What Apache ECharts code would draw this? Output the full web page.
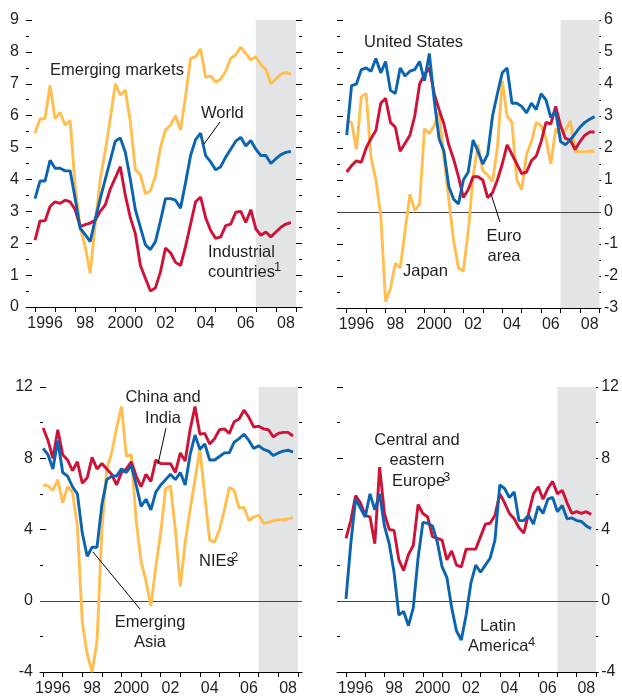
<!DOCTYPE html>
<html>
<head>
<meta charset="utf-8">
<style>
html, body { margin: 0; padding: 0; background: #fff; }
#chart { width: 622px; height: 697px; }
</style>
<script src="https://cdn.jsdelivr.net/npm/echarts@6.0.0/dist/echarts.min.js"></script>
</head>
<body>
<div id="chart"></div>
<script>
var FONT = "'Liberation Sans', Arial, sans-serif";
var ORANGE = '#ffbe4f', BLUE = '#0b64b0', RED = '#cf1238', SHADE = '#e3e4e6', INK = '#231f20';

// year boundaries and labels (labels sit in the middle of a year)
var tickYears = [1996, 1997, 1998, 1999, 2000, 2001, 2002, 2003, 2004, 2005, 2006, 2007, 2008, 2009];
var yearLabels = ['1996', '98', '2000', '02', '04', '06', '08'];
var forecastFrom = 2007, forecastTo = 2009;

// quarterly data, 1996Q1 .. 2008Q4
var emergingMarkets = [5.45,5.9,5.9,6.95,5.9,6.1,5.7,5.85,3.8,2.5,1.9,1.05,2.6,4.0,4.9,5.9,7.0,6.65,6.8,5.8,4.3,4.15,3.55,3.65,4.1,5.0,5.55,5.7,6.0,5.55,6.6,7.8,7.85,8.1,7.2,7.25,7.05,7.15,7.4,7.8,7.9,8.15,7.95,7.75,7.85,7.6,7.45,7.0,7.15,7.3,7.35,7.3];
var world = [3.4,3.95,3.95,4.6,4.35,4.35,4.27,4.27,3.4,2.47,2.27,2.05,2.75,3.4,4.0,4.6,5.2,5.3,4.85,4.0,3.05,2.5,1.95,1.8,2.05,2.7,3.4,3.4,3.35,3.1,3.9,4.75,5.25,5.45,4.75,4.55,4.3,4.4,4.7,4.95,5.2,5.32,5.05,5.22,4.95,4.75,4.75,4.5,4.65,4.78,4.85,4.88];
var industrial = [2.1,2.7,2.7,3.15,3.3,3.25,3.35,3.3,3.05,2.52,2.58,2.63,2.72,3.0,3.2,3.7,4.05,4.4,3.5,2.8,2.3,1.3,0.9,0.5,0.6,1.1,1.85,1.7,1.4,1.3,1.9,2.6,3.3,3.45,2.8,2.4,2.15,2.2,2.55,2.6,2.97,3.0,2.65,3.05,2.45,2.25,2.35,2.2,2.35,2.5,2.6,2.65];

var unitedStates = [2.4,3.95,4.0,4.45,4.5,4.4,4.8,4.35,4.7,3.8,3.7,4.5,4.25,4.4,4.45,4.7,4.1,4.95,3.5,2.3,1.9,0.8,0.4,0.25,1.0,1.25,2.25,1.9,1.5,1.8,3.0,3.7,4.35,4.5,3.4,3.4,3.3,3.1,3.4,3.2,3.7,3.5,2.95,3.15,2.2,2.1,2.25,2.45,2.65,2.8,2.9,2.98];
var euroArea = [1.25,1.45,1.6,1.55,2.0,2.3,2.55,3.4,3.55,2.8,2.65,1.9,2.15,2.4,3.0,4.0,4.3,4.5,3.7,3.2,2.75,2.1,1.65,1.1,0.45,0.7,1.1,1.1,1.0,0.45,0.6,1.0,1.5,2.1,1.8,1.5,1.2,1.25,1.6,1.75,2.2,2.8,2.75,3.3,2.7,2.3,2.25,1.95,2.2,2.4,2.5,2.5];
var japan = [2.85,2.8,1.95,3.6,3.7,1.7,1.0,-0.1,-2.8,-2.4,-1.6,-1.75,-0.6,0.55,0.05,0.25,2.6,2.45,2.7,3.1,1.7,0.4,-0.9,-1.75,-1.85,-0.6,1.1,2.1,1.3,1.15,0.95,2.0,4.1,3.0,2.8,1.0,0.7,1.8,2.2,2.8,2.7,2.3,1.5,2.6,2.4,2.55,2.85,1.9,1.88,1.88,1.9,1.9];

var chinaIndia = [9.7,9.0,8.0,9.6,8.2,7.9,7.3,7.8,6.6,6.9,8.05,7.4,7.7,7.4,7.1,6.5,7.2,7.4,7.8,7.0,6.4,7.1,6.7,7.9,7.7,7.7,7.7,7.2,8.3,7.85,9.6,10.9,9.35,9.4,8.8,9.1,9.6,9.65,9.4,10.05,10.2,10.7,10.3,9.75,9.8,9.65,9.6,9.2,9.4,9.45,9.45,9.25];
var emergingAsia = [8.55,8.2,7.4,9.0,7.2,7.0,6.4,6.0,3.8,2.5,3.0,3.0,5.4,6.8,7.0,7.0,7.4,7.2,7.6,6.5,5.3,5.7,5.1,6.1,6.5,6.8,7.1,6.8,7.2,6.5,8.2,9.3,8.5,8.8,7.9,7.9,8.1,8.3,8.3,8.9,9.1,9.35,9.0,8.55,8.7,8.5,8.4,8.15,8.3,8.4,8.45,8.35];
var nies = [6.5,6.45,6.2,6.8,5.5,6.4,6.1,4.2,-1.2,-3.0,-4.0,-2.3,4.0,7.4,8.3,9.7,10.9,8.1,8.2,4.5,2.2,1.1,-0.3,1.9,3.8,6.3,6.45,4.0,0.8,3.3,5.1,6.8,8.5,5.9,3.4,3.3,4.0,5.1,6.35,6.2,5.2,5.25,4.5,4.7,4.8,4.35,4.4,4.5,4.55,4.55,4.6,4.65];

var ceEurope = [3.5,4.5,5.9,5.5,4.8,4.7,3.2,7.5,4.9,4.0,3.95,2.3,1.7,2.6,3.1,5.4,4.9,4.7,3.6,3.5,3.4,2.3,2.8,2.0,1.9,2.9,2.9,2.9,3.6,4.3,4.35,4.8,6.0,5.5,4.9,4.6,4.1,3.8,4.9,6.0,6.4,5.7,6.3,6.7,6.0,6.2,5.5,4.9,5.0,4.9,5.0,4.85];
var latinAmerica = [0.1,3.2,5.7,5.2,4.7,6.0,5.1,6.0,4.2,3.2,1.6,-0.8,-0.6,-1.4,-0.4,2.4,4.4,4.35,4.2,3.3,1.9,1.3,-0.4,-1.7,-2.2,-0.8,1.0,2.0,1.6,2.0,2.4,3.4,6.5,6.3,5.8,6.1,4.5,4.5,4.8,4.3,5.3,4.9,5.7,5.8,5.0,5.35,4.6,4.65,4.5,4.45,4.2,4.05];

function quarterPoints(values) {
	var out = [];
	for (var i = 0; i < values.length; i++) {
		out.push([1996 + i / 4, values[i]]);
	}
	return out;
}

var labelPos = yearLabels.map(function (s, k) { return 1996.5 + 2 * k; });

var grids = [
	{ left: 26, top: 20, width: 276, height: 287 },
	{ left: 337, top: 20, width: 264, height: 288 },
	{ left: 40, top: 387, width: 262, height: 287 },
	{ left: 337, top: 387, width: 262, height: 285 }
];
var xRange = [[1995.552, 2009.30], [1995.50, 2009.08], [1995.842, 2009.21], [1995.533, 2009.12]];
var yRange = [[0, 9, 1], [-3, 6, 1], [-4, 12, 4], [-4, 12, 4]];
var labelSide = ['left', 'right', 'left', 'right'];

var xAxes = [], yAxes = [];
grids.forEach(function (g, gi) {
	xAxes.push({
		type: 'value', gridIndex: gi, min: xRange[gi][0], max: xRange[gi][1],
		axisLine: { show: true, onZero: false, lineStyle: { color: '#000', width: 1 } },
		axisTick: { show: true, customValues: tickYears, length: 5, lineStyle: { color: '#000', width: 1 } },
		axisLabel: {
			customValues: labelPos, fontFamily: FONT, fontSize: 16, color: INK, margin: 9,
			formatter: function (v) { return yearLabels[Math.round((v - 1996.5) / 2)]; }
		},
		splitLine: { show: false }
	});
	['left', 'right'].forEach(function (side) {
		yAxes.push({
			type: 'value', gridIndex: gi, position: side,
			min: yRange[gi][0], max: yRange[gi][1], interval: yRange[gi][2],
			axisLine: { show: false }, splitLine: { show: false },
			axisTick: { show: true, inside: true, length: 6, lineStyle: { color: '#000', width: 1 } },
			minorTick: { show: true, splitNumber: 2, length: 3, lineStyle: { color: '#000', width: 1 } },
			axisLabel: {
				show: side === labelSide[gi], fontFamily: FONT, fontSize: 16, color: INK,
				margin: side === 'left' ? 7 : 3
			}
		});
	});
});

function line(gi, values, color, extra) {
	var s = {
		type: 'line', xAxisIndex: gi, yAxisIndex: gi * 2,
		data: quarterPoints(values), showSymbol: false, symbol: 'none',
		lineStyle: { color: color, width: 2.9 }, itemStyle: { color: color },
		silent: true, z: 3
	};
	if (extra) {
		s.markArea = {
			silent: true, itemStyle: { color: SHADE },
			data: [[{ xAxis: forecastFrom }, { xAxis: forecastTo }]]
		};
		if (extra === 'zero') {
			s.markLine = {
				silent: true, z: 2, symbol: ['none', 'none'], animation: false,
				label: { show: false },
				lineStyle: { color: '#444', width: 1, type: 'solid' },
				data: [{ yAxis: 0 }]
			};
		}
	}
	return s;
}

var series = [
	line(0, emergingMarkets, ORANGE, 'shade'),
	line(0, industrial, RED),
	line(0, world, BLUE),
	line(1, japan, ORANGE, 'zero'),
	line(1, euroArea, RED),
	line(1, unitedStates, BLUE),
	line(2, nies, ORANGE, 'zero'),
	line(2, chinaIndia, RED),
	line(2, emergingAsia, BLUE),
	line(3, ceEurope, RED, 'zero'),
	line(3, latinAmerica, BLUE)
];

// text labels on the panels
var notes = [
	{ t: 'Emerging markets', x: 50, y: 70 },
	{ t: 'World', x: 201, y: 113 },
	{ t: 'Industrial', x: 208, y: 252 },
	{ t: 'countries', x: 208, y: 272 },
	{ t: '1', x: 274, y: 267, s: 13 },
	{ t: 'United States', x: 364, y: 42 },
	{ t: 'Euro', x: 504, y: 236, a: 'center' },
	{ t: 'area', x: 504, y: 256, a: 'center' },
	{ t: 'Japan', x: 403, y: 271 },
	{ t: 'China and', x: 163, y: 397, a: 'center' },
	{ t: 'India', x: 163, y: 418, a: 'center' },
	{ t: 'Emerging', x: 150, y: 622, a: 'center' },
	{ t: 'Asia', x: 150, y: 642, a: 'center' },
	{ t: 'NIEs', x: 199, y: 561 },
	{ t: '2', x: 231, y: 557, s: 13 },
	{ t: 'Central and', x: 417, y: 440, a: 'center' },
	{ t: 'eastern', x: 417, y: 460, a: 'center' },
	{ t: 'Europe', x: 392, y: 481 },
	{ t: '3', x: 443, y: 477, s: 13 },
	{ t: 'Latin', x: 498, y: 626, a: 'center' },
	{ t: 'America', x: 468, y: 646 },
	{ t: '4', x: 528, y: 642, s: 13 }
];
var leaders = [[220, 122, 204, 144], [500, 222, 491, 194], [166, 428, 158, 464], [93, 552, 140, 609]];

var graphic = [];
notes.forEach(function (n) {
	graphic.push({
		type: 'text', x: n.x, y: n.y, silent: true, z: 10,
		style: {
			text: n.t, fill: INK, font: (n.s || 16.5) + 'px ' + FONT,
			textAlign: n.a || 'left', textVerticalAlign: 'middle'
		}
	});
});
leaders.forEach(function (l) {
	graphic.push({
		type: 'line', silent: true, z: 10,
		shape: { x1: l[0], y1: l[1], x2: l[2], y2: l[3] },
		style: { stroke: '#000', lineWidth: 1 }
	});
});

var myChart = echarts.init(document.getElementById('chart'));
var option = {
	animation: false,
	backgroundColor: '#fff',
	grid: grids,
	xAxis: xAxes,
	yAxis: yAxes,
	series: series,
	graphic: graphic
};
myChart.setOption(option);
</script>
</body>
</html>
